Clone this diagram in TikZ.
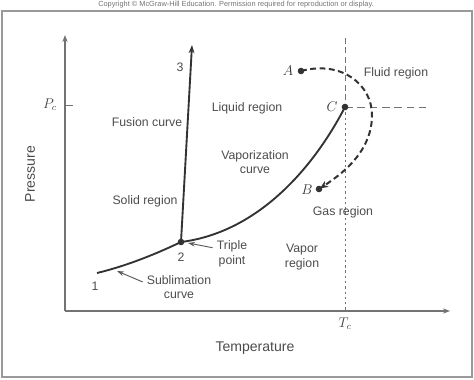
\documentclass[tikz,border=0pt]{standalone}
\usepackage{fontspec}
\setmainfont{Liberation Sans}
\usepackage{tikz}
\usetikzlibrary{arrows.meta, positioning, calc}

\begin{document}
\begin{tikzpicture}[
    x=0.03cm, y=-0.03cm,
    region/.style={font=\fontsize{10.5}{12.5}\selectfont, text=black!70, align=center, inner sep=0pt},
    axislabel/.style={font=\fontsize{12}{14}\selectfont, text=black!70, inner sep=0pt},
    ptlabel/.style={font=\fontsize{11.5}{13}\selectfont, text=black!80, inner sep=0pt},
    dot/.style={circle, fill=black!80, inner sep=0pt, minimum size=5.6pt},
    phase/.style={line width=1.6pt, draw=black!80},
    axis/.style={line width=0.9pt, draw=black!55, -{Stealth[length=6pt, width=4.5pt]}},
    guide/.style={line width=0.8pt, draw=black!55},
    pathdash/.style={line width=1.7pt, draw=black!80, dash pattern=on 5pt off 3pt, -{Stealth[length=7pt, width=6pt]}, shorten >=1pt},
    pointer/.style={line width=0.8pt, draw=black!65, -{Stealth[length=6pt, width=4pt]}}
]
    \useasboundingbox (0,0) rectangle (474,379);

    % Kopfzeile und Rahmen
    \node[font=\fontsize{6.3}{7}\selectfont, text=black!55, inner sep=0pt] (copyright) at (236,5) {Copyright © McGraw-Hill Education. Permission required for reproduction or display.};
    \draw[black!40, line width=1.6pt] (2,11) rectangle (472,377);

    % Achsen
    \coordinate (origin) at (65,311);
    \coordinate (ytip) at (65,35);
    \coordinate (xtip) at (450,311);
    \draw[axis] (origin) -- (ytip);
    \draw[axis] (origin) -- (xtip);

    \node[axislabel, rotate=90] (pressure) at (30,174) {Pressure};
    \node[axislabel] (temperature) at (255,348) {Temperature};

    % Kritischer Punkt und Hilfslinien
    \coordinate (crit) at (345,107);
    \coordinate (tctop) at (345,38);
    \coordinate (tcaxis) at (345,311);
    \coordinate (pcend) at (430,107);
    \coordinate (pctick) at (65,105);
    \coordinate (pctickend) at (73,105);
    \draw[guide, dash pattern=on 5pt off 3pt] (tctop) -- (crit);
    \draw[guide, dash pattern=on 2pt off 2.5pt] (crit) -- (tcaxis);
    \draw[guide, dash pattern=on 6.5pt off 4pt] (crit) -- (pcend);
    \draw[guide] (pctick) -- (pctickend);

    \node[font=\fontsize{12}{14}\selectfont, text=black!75] (pc) at (50,105) {$P_c$};
    \node[font=\fontsize{12}{14}\selectfont, text=black!75] (tc) at (345,324) {$T_c$};

    % Phasengrenzen
    \coordinate (start1) at (97,273);
    \coordinate (triple) at (181,242);
    \coordinate (top3) at (192,45);
    \coordinate (subtip) at (117,271);
    \draw[phase] (start1) .. controls (130,265) and (160,252) .. (triple)
        .. controls (260,232) and (315,165) .. (crit);
    \draw[phase, -{Stealth[length=7pt, width=5pt]}] (triple) -- (top3);

    % Pfad von A nach B
    \coordinate (posA) at (301,71);
    \coordinate (posB) at (319,189);
    \coordinate (loop) at (372,115);
    \draw[pathdash] (posA) .. controls (342,60) and (372,85) .. (loop)
        .. controls (372,150) and (345,172) .. (posB);

    % Punkte
    \node[dot] (tp) at (triple) {};
    \node[dot] (cp) at (crit) {};
    \node[dot] (ptA) at (posA) {};
    \node[dot] (ptB) at (posB) {};

    \node[ptlabel] (labA) at (288,71) {$A$};
    \node[ptlabel] (labB) at (307,190) {$B$};
    \node[ptlabel] (labC) at (332,107) {$C$};

    \node[region] (num1) at (95,286) {1};
    \node[region] (num2) at (181,257) {2};
    \node[region] (num3) at (180,67) {3};

    % Beschriftungen der Gebiete
    \node[region] (fusion) at (147,122) {Fusion curve};
    \node[region] (solid) at (145,201) {Solid region};
    \node[region] (liquid) at (247,108) {Liquid region};
    \node[region] (vapcurve) at (255,162) {Vaporization\\curve};
    \node[region] (fluid) at (396,73) {Fluid region};
    \node[region] (gas) at (343,212) {Gas region};
    \node[region] (vapor) at (302,257) {Vapor\\region};
    \node[region] (triplab) at (232,254) {Triple\\point};
    \node[region] (sublab) at (179,287) {Sublimation\\curve};

    \draw[pointer] ($(triplab.north west)+(-4,7)$) -- ($(tp)+(7,1)$);
    \draw[pointer] ($(sublab.north west)+(-4,7)$) -- (subtip);
\end{tikzpicture}
\end{document}
